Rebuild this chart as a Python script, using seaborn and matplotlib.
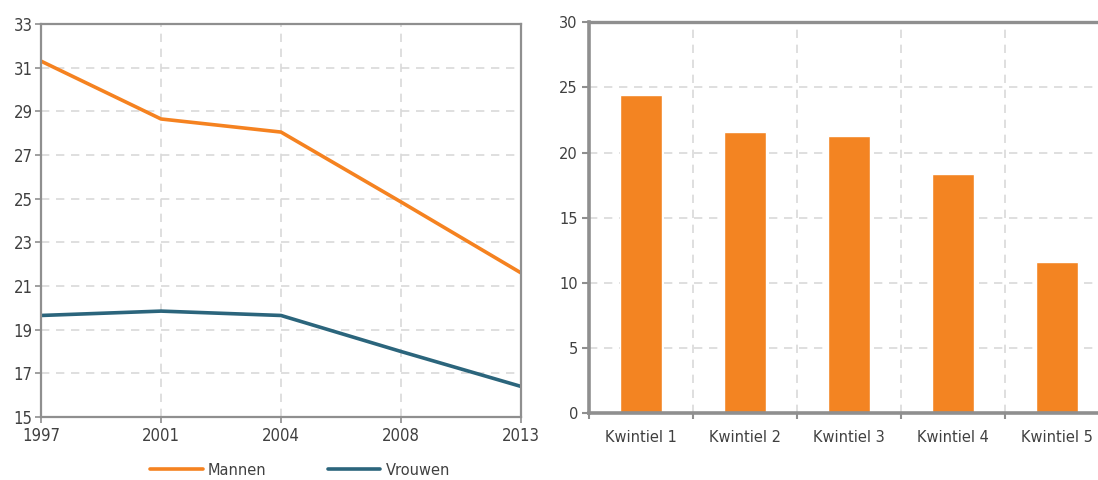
import numpy as np
import pandas as pd
import matplotlib
matplotlib.use("Agg")
import matplotlib.pyplot as plt
import seaborn as sns

# data
jaren = ["1997", "2001", "2004", "2008", "2013"]
mannen = [31.3, 28.65, 28.05, 24.85, 21.6]
vrouwen = [19.65, 19.85, 19.65, 18.0, 16.4]

kwintielen = ["Kwintiel 1", "Kwintiel 2", "Kwintiel 3", "Kwintiel 4", "Kwintiel 5"]
percentages = [24.4, 21.55, 21.3, 18.33, 11.6]

# kleuren
ORANJE = "#f58220"
BLAUW = "#2b657c"
SPINE = "#8f8f8f"
GRID = "#d9d9d9"
TEKST = "#404040"

sns.set_theme(style="white")
plt.rcParams["font.family"] = ["DejaVu Sans"]

fig = plt.figure(figsize=(10.98, 4.8), dpi=100)
ax1 = fig.add_axes([41 / 1098, 63 / 480, 480 / 1098, 393 / 480])
ax2 = fig.add_axes([589 / 1098, 66.7 / 480, 520 / 1098, 391 / 480])

# links: lijngrafiek
df = pd.DataFrame({
    "jaar": jaren * 2,
    "waarde": mannen + vrouwen,
    "geslacht": ["Mannen"] * len(jaren) + ["Vrouwen"] * len(jaren),
})
sns.lineplot(data=df, x="jaar", y="waarde", hue="geslacht",
             palette=[ORANJE, BLAUW], linewidth=2.6, ax=ax1)
ax1.set_xlim(0, 4)
ax1.set_ylim(15, 33)
ax1.set_yticks(np.arange(15, 34, 2))
ax1.set_xlabel("")
ax1.set_ylabel("")
ax1.grid(True, color=GRID, linestyle=(0, (5, 4)), linewidth=1.2)
ax1.set_axisbelow(True)
for s in ax1.spines.values():
    s.set_color(SPINE)
    s.set_linewidth(1.6)
ax1.tick_params(axis="both", colors=SPINE, labelcolor=TEKST, labelsize=12,
                length=4, width=1.2, direction="out", pad=2)
ax1.tick_params(axis="y", left=True)
ax1.tick_params(axis="x", bottom=True, pad=3)
for lbl in ax1.get_xticklabels() + ax1.get_yticklabels():
    lbl.set_fontstretch("condensed")
sns.move_legend(ax1, loc="center", bbox_to_anchor=(0.54, -0.135), ncol=2,
                frameon=False, title=None, fontsize=10.5, handlelength=3.6,
                columnspacing=4.2, handletextpad=0.35)
for t in ax1.get_legend().get_texts():
    t.set_color(TEKST)

# rechts: staafdiagram
sns.barplot(x=kwintielen, y=percentages, color="#f38422", width=0.41,
            saturation=1, ax=ax2)
ax2.set_xlim(-0.5, 4.5)
ax2.set_ylim(0, 30)
ax2.set_yticks(np.arange(0, 31, 5))
ax2.set_xticks(np.arange(-0.5, 4.6, 1), minor=True)
ax2.grid(True, axis="y", color=GRID, linestyle=(0, (5, 4)), linewidth=1.2)
ax2.grid(True, axis="x", which="minor", color=GRID, linestyle=(0, (5, 4)), linewidth=1.2)
ax2.grid(False, axis="x", which="major")
ax2.set_axisbelow(True)
for side in ["left", "bottom", "top"]:
    ax2.spines[side].set_color(SPINE)
ax2.spines["left"].set_linewidth(2.6)
ax2.spines["bottom"].set_linewidth(2.6)
ax2.spines["top"].set_linewidth(2.4)
ax2.spines["right"].set_visible(False)
ax2.tick_params(axis="y", left=True, colors=SPINE, labelcolor=TEKST,
                labelsize=10.5, length=5, width=1.5, pad=3)
ax2.tick_params(axis="x", which="major", bottom=False, labelcolor=TEKST,
                labelsize=10.5, pad=6)
ax2.tick_params(axis="x", which="minor", bottom=True, colors=SPINE,
                length=4, width=1.5)

fig.savefig("out.png", dpi=100)
